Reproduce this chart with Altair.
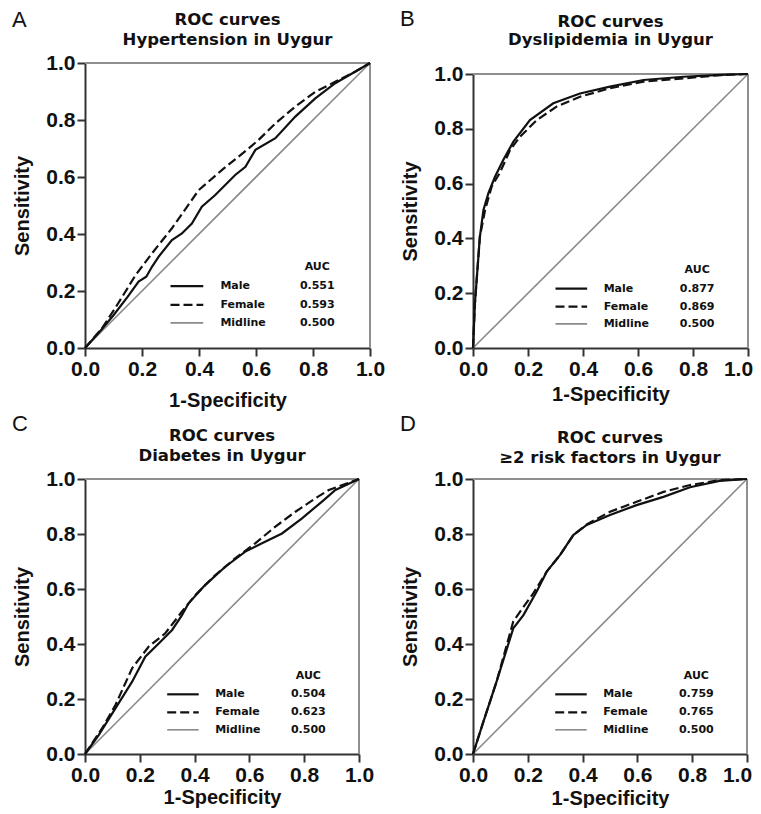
import altair as alt
import pandas as pd

# ---------------- data ----------------
title_main = "ROC curves"
panel_letters = ["A", "B", "C", "D"]
panel_subtitles = ["Hypertension in Uygur", "Dyslipidemia in Uygur",
                   "Diabetes in Uygur", "≥2 risk factors in Uygur"]
series_names = ["Male", "Female", "Midline"]
auc_header = "AUC"
auc_values = [["0.551", "0.593", "0.500"],
              ["0.877", "0.869", "0.500"],
              ["0.504", "0.623", "0.500"],
              ["0.759", "0.765", "0.500"]]
tick_values = [0.0, 0.2, 0.4, 0.6, 0.8, 1.0]
midline_x = [0.0, 1.0]
midline_y = [0.0, 1.0]
frame_lo = 0.0
frame_hi = 1.0

# Panel A: Hypertension
a_male_x = [0, 0.05, 0.10, 0.15, 0.188, 0.215, 0.235, 0.258, 0.305, 0.34, 0.375, 0.41,
            0.457, 0.527, 0.563, 0.598, 0.668, 0.738, 0.808, 0.878, 0.949, 1.0]
a_male_y = [0, 0.055, 0.115, 0.18, 0.233, 0.25, 0.285, 0.32, 0.379, 0.402, 0.437, 0.496,
            0.537, 0.607, 0.636, 0.695, 0.736, 0.812, 0.876, 0.929, 0.97, 1.0]
a_female_x = [0, 0.06, 0.106, 0.177, 0.235, 0.305, 0.399, 0.481, 0.574, 0.609, 0.668,
              0.738, 0.808, 0.878, 0.949, 1.0]
a_female_y = [0, 0.07, 0.14, 0.255, 0.332, 0.42, 0.554, 0.625, 0.70, 0.73, 0.788,
              0.847, 0.899, 0.934, 0.97, 1.0]

# Panel B: Dyslipidemia
b_male_x = [0, 0.007, 0.025, 0.038, 0.056, 0.08, 0.11, 0.147, 0.207, 0.292, 0.389,
            0.498, 0.62, 0.765, 0.9, 1.0]
b_male_y = [0, 0.163, 0.406, 0.504, 0.565, 0.625, 0.686, 0.753, 0.832, 0.893, 0.929,
            0.954, 0.978, 0.99, 0.997, 1.0]
b_female_x = [0, 0.007, 0.025, 0.044, 0.068, 0.098, 0.135, 0.171, 0.232, 0.304, 0.389,
              0.498, 0.62, 0.765, 0.9, 1.0]
b_female_y = [0, 0.163, 0.406, 0.504, 0.59, 0.64, 0.723, 0.771, 0.832, 0.881, 0.917,
              0.948, 0.972, 0.984, 0.996, 1.0]

# Panel C: Diabetes
c_male_x = [0, 0.05, 0.111, 0.172, 0.22, 0.269, 0.318, 0.354, 0.378, 0.439, 0.512,
            0.585, 0.646, 0.719, 0.792, 0.865, 0.914, 1.0]
c_male_y = [0, 0.069, 0.166, 0.263, 0.354, 0.402, 0.451, 0.505, 0.548, 0.615, 0.681,
            0.736, 0.766, 0.802, 0.857, 0.918, 0.96, 1.0]
c_female_x = [0, 0.062, 0.111, 0.172, 0.232, 0.293, 0.354, 0.403, 0.476, 0.549, 0.621,
              0.695, 0.768, 0.841, 0.89, 1.0]
c_female_y = [0, 0.093, 0.178, 0.312, 0.39, 0.439, 0.518, 0.578, 0.651, 0.712, 0.766,
              0.827, 0.881, 0.93, 0.96, 1.0]

# Panel D: >=2 risk factors
d_male_x = [0, 0.038, 0.086, 0.147, 0.184, 0.232, 0.269, 0.318, 0.366, 0.415, 0.5,
            0.597, 0.695, 0.792, 0.9, 1.0]
d_male_y = [0, 0.118, 0.263, 0.457, 0.505, 0.59, 0.663, 0.724, 0.796, 0.833, 0.869,
            0.905, 0.935, 0.97, 0.993, 1.0]
d_female_x = [0, 0.038, 0.086, 0.147, 0.172, 0.22, 0.269, 0.318, 0.366, 0.415, 0.5,
              0.597, 0.695, 0.792, 0.9, 1.0]
d_female_y = [0, 0.118, 0.263, 0.482, 0.518, 0.584, 0.663, 0.724, 0.796, 0.835, 0.881,
              0.917, 0.953, 0.978, 0.996, 1.0]

curves = [(a_male_x, a_male_y, a_female_x, a_female_y),
          (b_male_x, b_male_y, b_female_x, b_female_y),
          (c_male_x, c_male_y, c_female_x, c_female_y),
          (d_male_x, d_male_y, d_female_x, d_female_y)]

# ---------------- layout / style ----------------
# (view width, view height, plot height) -- plot sits at the bottom of the view
sizes = [(285, 285, 285), (275, 285, 274), (274, 275, 275), (274, 275, 275)]
title_y = [(-51, -31), (-49, -31), (-51, -31), (-49, -29)]
letter_y = [-53, -54, -64.6, -64.6]
xtitle_pads = [11, 5, 2, 3]
last_label_shift = [0, -10, 0, -10]

INK = "#111111"
AXIS = "#333333"
GRAY = "#8a8a8a"
FRAME = "#8f8f8f"
LEG_FONT = dict(font="DejaVu Sans", fontWeight="bold", fontSize=11, color=INK)
TITLE_FONT = dict(font="DejaVu Sans", fontWeight="bold", fontSize=16.5, color=INK)


def text_layer(value, x, y, **style):
    return alt.Chart(pd.DataFrame({"t": [value]})).mark_text(**style).encode(
        x=alt.value(x), y=alt.value(y), text="t:N")


def panel(i):
    mx, my, fx, fy = curves[i]
    w, vh, ph = sizes[i]
    df = pd.DataFrame({
        "x": list(mx) + list(fx),
        "y": list(my) + list(fy),
        "series": ["Male"] * len(mx) + ["Female"] * len(fx),
        "order": list(range(len(mx))) + list(range(len(fx))),
    })
    xaxis_kw = dict(values=tick_values, format=".1f", title="1-Specificity",
                    titlePadding=xtitle_pads[i], labelFlush=False)
    if last_label_shift[i]:
        xaxis_kw["labelOffset"] = alt.expr(
            f"datum.value >= 1 ? {last_label_shift[i]} : 0")
    xaxis = alt.Axis(**xaxis_kw)
    yaxis = alt.Axis(values=tick_values, format=".1f", title="Sensitivity",
                     titlePadding=13, labelFlush=False)
    xscale = alt.Scale(domain=[0, 1], nice=False, zero=False)
    yscale = alt.Scale(domain=[0, 1], nice=False, zero=False, range=[vh, vh - ph])
    xenc = alt.X("x:Q", scale=xscale, axis=xaxis)
    yenc = alt.Y("y:Q", scale=yscale, axis=yaxis)

    # grey frame on top and right
    top = alt.Chart(pd.DataFrame({"x": [frame_lo], "x2": [frame_hi], "y": [frame_hi]})
                    ).mark_rule(color=FRAME, strokeWidth=2).encode(
        x=alt.X("x:Q", scale=xscale, axis=xaxis), x2="x2:Q",
        y=alt.Y("y:Q", scale=yscale, axis=yaxis))
    right = alt.Chart(pd.DataFrame({"x": [frame_hi], "y": [frame_lo], "y2": [frame_hi]})
                      ).mark_rule(color=FRAME, strokeWidth=2).encode(
        x=alt.X("x:Q", scale=xscale, axis=xaxis),
        y=alt.Y("y:Q", scale=yscale, axis=yaxis), y2="y2:Q")

    mid = alt.Chart(pd.DataFrame({"x": midline_x, "y": midline_y})).mark_line(
        color=GRAY, strokeWidth=1.6).encode(x=xenc, y=yenc)
    male = alt.Chart(df).transform_filter(alt.datum.series == "Male").mark_line(
        color=INK, strokeWidth=2.2).encode(x=xenc, y=yenc, order="order:Q")
    female = alt.Chart(df).transform_filter(alt.datum.series == "Female").mark_line(
        color=INK, strokeWidth=2.2, strokeDash=[9, 4]).encode(x=xenc, y=yenc, order="order:Q")

    layers = [mid, top, right, male, female]

    # custom in-plot legend
    leg = alt.Chart(pd.DataFrame({"label": series_names, "auc": auc_values[i],
                                  "k": [0, 1, 2]}))
    row_y = [vh - 0.217 * ph, vh - 0.151 * ph, vh - 0.088 * ph]
    header_y = vh - 0.285 * ph
    lx0, lx1, tx, vx = 0.30 * w, 0.415 * w, 0.475 * w, 0.815 * w
    layers.append(text_layer(auc_header, vx, header_y, align="center",
                             baseline="middle", **LEG_FONT))
    rule_styles = [dict(color=INK, strokeWidth=2.2),
                   dict(color=INK, strokeWidth=2.2, strokeDash=[9, 4]),
                   dict(color=GRAY, strokeWidth=1.6)]
    for k in range(3):
        row = leg.transform_filter(alt.datum.k == k)
        layers.append(row.mark_rule(**rule_styles[k]).encode(
            x=alt.value(lx0), x2=alt.value(lx1), y=alt.value(row_y[k])))
        layers.append(row.mark_text(align="left", baseline="middle", **LEG_FONT).encode(
            x=alt.value(tx), y=alt.value(row_y[k]), text="label:N"))
        layers.append(row.mark_text(align="center", baseline="middle", **LEG_FONT).encode(
            x=alt.value(vx), y=alt.value(row_y[k]), text="auc:N"))

    # two-line panel title and panel letter
    layers.append(text_layer(title_main, w / 2, title_y[i][0], align="center",
                             baseline="top", **TITLE_FONT))
    layers.append(text_layer(panel_subtitles[i], w / 2, title_y[i][1], align="center",
                             baseline="top", **TITLE_FONT))
    layers.append(text_layer(panel_letters[i], -73, letter_y[i], align="left",
                             baseline="top", font="Liberation Sans",
                             fontSize=22, color=INK))

    return alt.layer(*layers).properties(width=w, height=vh)


chart = alt.vconcat(
    alt.hconcat(panel(0), panel(1), spacing=15),
    alt.hconcat(panel(2), panel(3), spacing=26),
    spacing=3,
).properties(
    padding={"left": 4, "top": 0, "right": 0, "bottom": 0},
    background="white",
).configure_view(
    strokeWidth=0,
).configure_axis(
    domainColor=AXIS, domainWidth=2, tickColor=AXIS, tickWidth=2, tickSize=8,
    labelFont="Liberation Sans", labelFontWeight="bold", labelFontSize=21,
    labelColor=INK, labelPadding=2,
    titleFont="Liberation Sans", titleFontWeight="bold", titleFontSize=20, titleColor=INK,
    grid=False,
)

chart.save("out.html", embed_options={"renderer": "svg", "actions": False})
